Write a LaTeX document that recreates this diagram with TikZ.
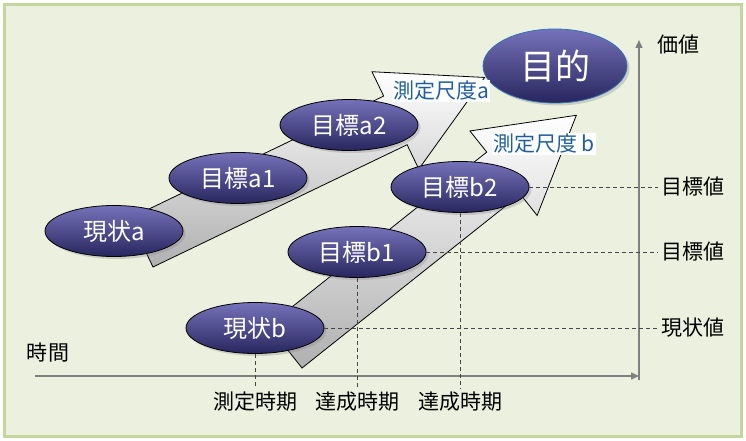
\documentclass[tikz,border=0pt]{standalone}
\usepackage{fontspec}
\setmainfont{Noto Sans CJK JP}
\usetikzlibrary{arrows.meta,shapes.geometric,shadows,positioning}
\definecolor{metaTopo}   {RGB}{118, 114, 186}
\definecolor{metaBase}   {RGB}{ 40,  38,  94}
\definecolor{fundoVerde} {RGB}{235, 241, 222}
\definecolor{bordaVerde} {RGB}{195, 214, 155}
\definecolor{textoAzul}  {RGB}{ 31,  95, 160}
\definecolor{eixoCinza}  {RGB}{128, 128, 128}
\definecolor{guiaCinza}  {RGB}{ 70,  70,  70}
\definecolor{bordaAzul}  {RGB}{ 46, 117, 182}

\tikzset{
  meta/.style={ellipse,draw=black,line width=0.8pt,
    top color=metaTopo,bottom color=metaBase,
    minimum width=138pt,minimum height=51pt,inner sep=0pt,
    text=white,font=\fontsize{24}{24}\selectfont,
    drop shadow={shadow xshift=2.5pt,shadow yshift=-2.5pt,opacity=0.3}},
  seta/.style={draw=black,line width=0.8pt,
    top color=white,middle color=white,bottom color=gray!62},
  guia/.style={guiaCinza,dash pattern=on 4pt off 3pt,line width=0.9pt},
  eixo/.style={eixoCinza,line width=1.5pt,-{Triangle[width=7pt,length=8pt]}},
  rotulo/.style={font=\fontsize{21}{21}\selectfont},
  escala/.style={fill=white,text=textoAzul,inner sep=1.5pt,
    font=\fontsize{21}{21}\selectfont}
}

\begin{document}
\begin{tikzpicture}[x=1pt,y=-1pt]
        \useasboundingbox (0,0) rectangle (746,441);
        % Fundo
        \draw[fill=fundoVerde,draw=bordaVerde,line width=3pt]
          (4.5,4.5) rectangle (741.5,436.5);

        % Setas largas (origem, angulo, haste, ponta)
        \foreach \ox/\oy/\ang/\haste/\ponta in {
          153/267/25.7/282/381,
          302/368/38.5/279/372}{
          \shade[seta,shift={(\ox,\oy)},rotate=\ang]
            (0,0) -- (\haste,0) -- (\haste,27) -- (\ponta,-27)
            -- (\haste,-81) -- (\haste,-54) -- (0,-54) -- cycle;
        }

        % Metas (nome, x, y, texto)
        \foreach \nome/\x/\y/\txt in {
          ja/114/231/現状a,
          a1/238/178/目標a1,
          a2/349/125/目標a2,
          jb/255/328/現状b,
          b1/357/252/目標b1,
          b2/460/187/目標b2}{
          \node[meta] (\nome) at (\x,\y) {\txt};
        }
        \node[meta,draw=bordaAzul,minimum width=144pt,minimum height=74pt,
          font=\fontsize{35}{35}\selectfont] (mokuteki) at (555,66) {目的};

        % Escalas
        \node[escala] (escA) at (441,91) {測定尺度a};
        \node[escala] (escB) at (544,144) {測定尺度 b};

        % Eixos
        \coordinate (origem) at (35,376);
        \coordinate (fimT) at (639,376);
        \coordinate (baseV) at (639,380);
        \coordinate (topoV) at (639,40);
        \draw[eixo] (origem) -- (fimT);
        \draw[eixo] (baseV) -- (topoV);
        \node[rotulo,anchor=west] (valor) at (654,45) {価値};
        \node[rotulo] (tempo) at (48,353) {時間};

        % Valores
        \node[rotulo,anchor=west] (vmeta2) at (658,187) {目標値};
        \node[rotulo,anchor=west] (vmeta1) at (658,252) {目標値};
        \node[rotulo,anchor=west] (vatual) at (658,328) {現状値};
        \draw[guia] (b2.east) -- (vmeta2.west);
        \draw[guia] (b1.east) -- (vmeta1.west);
        \draw[guia] (jb.east) -- (vatual.west);

        % Periodos
        \node[rotulo] (tmed) at (255,402) {測定時期};
        \node[rotulo] (tat1) at (357,402) {達成時期};
        \node[rotulo] (tat2) at (460,402) {達成時期};
        \draw[guia] (jb.south) -- (tmed.north);
        \draw[guia] (b1.south) -- (tat1.north);
        \draw[guia] (b2.south) -- (tat2.north);
      \end{tikzpicture}
\end{document}
